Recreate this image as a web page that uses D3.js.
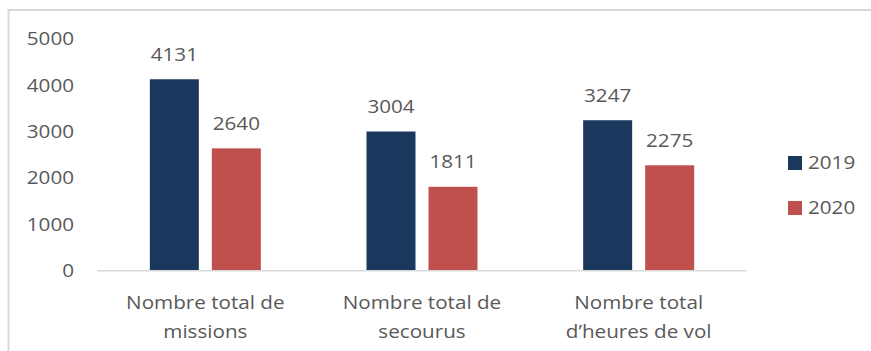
<!DOCTYPE html>
<html>
<head>
<meta charset="utf-8">
<script src="https://cdn.jsdelivr.net/npm/d3@7"></script>
<style>
  html, body { margin: 0; padding: 0; background: #fff; }
  svg { display: block; }
  text { font-family: "Open Sans", "Noto Sans", sans-serif; font-size: 17.5px; fill: #595959; }
</style>
</head>
<body>
<svg id="chart" width="871" height="351"></svg>
<script>
// Chart data
const categories = [
  ["Nombre total de", "missions"],
  ["Nombre total de", "secourus"],
  ["Nombre total", "d\u2019heures de vol"]
];
const seriesNames = ["2019", "2020"];
const values2019 = [4131, 3004, 3247];
const values2020 = [2640, 1811, 2275];
const yTicks = [0, 1000, 2000, 3000, 4000, 5000];
const colors = { "2019": "#1a375d", "2020": "#c0504d" };

const seriesValues = { "2019": values2019, "2020": values2020 };
const catKeys = categories.map((c, i) => i);

const svg = d3.select("#chart");
const stretch = 1.18; // horizontal stretch applied to all labels

function label(g, x, y, str, anchor) {
  return g.append("text")
    .attr("transform", `translate(${x},${y}) scale(${stretch},1)`)
    .attr("text-anchor", anchor)
    .text(str);
}

// Outer frame (top and left edges visible)
svg.append("path")
  .attr("d", "M8.5,351 V10 H871")
  .attr("fill", "none")
  .attr("stroke", "#d9d9d9")
  .attr("stroke-width", 2);

const plotLeft = 97, plotRight = 747;
const y = d3.scaleLinear().domain([0, 5000]).range([270.7, 39]);
const x0 = d3.scaleBand().domain(catKeys).range([plotLeft, plotRight]);
const groupWidth = 111;
const x1 = d3.scaleBand().domain(seriesNames).range([0, groupWidth]).paddingInner(13 / 62);
const groupOffset = (x0.bandwidth() - groupWidth) / 2;

// Y tick labels
const yAxisG = svg.append("g");
yTicks.forEach(t => label(yAxisG, 74, y(t) + 6.3, d3.format("d")(t), "end"));

// Bars and value labels
const barsG = svg.append("g");
seriesNames.forEach(s => {
  seriesValues[s].forEach((v, i) => {
    const bx = x0(i) + groupOffset + x1(s);
    barsG.append("rect")
      .attr("x", bx)
      .attr("y", y(v))
      .attr("width", x1.bandwidth())
      .attr("height", y(0) - y(v))
      .attr("fill", colors[s]);
    label(barsG, bx + x1.bandwidth() / 2, y(v) - 18.7, String(v), "middle");
  });
});

// Category axis baseline
svg.append("line")
  .attr("x1", plotLeft).attr("x2", plotRight)
  .attr("y1", y(0)).attr("y2", y(0))
  .attr("stroke", "#d9d9d9")
  .attr("stroke-width", 1.5);

// Category labels (two lines each)
const catG = svg.append("g");
categories.forEach((lines, i) => {
  const cx = x0(i) + x0.bandwidth() / 2;
  lines.forEach((ln, j) => label(catG, cx, 308.5 + j * 29, ln, "middle"));
});

// Legend
const legendG = svg.append("g");
seriesNames.forEach((s, i) => {
  const ly = 156 + i * 45;
  legendG.append("rect")
    .attr("x", 788).attr("y", ly)
    .attr("width", 14).attr("height", 14)
    .attr("fill", colors[s]);
  label(legendG, 808, ly + 7 + 6.3, s, "start");
});
</script>
</body>
</html>
